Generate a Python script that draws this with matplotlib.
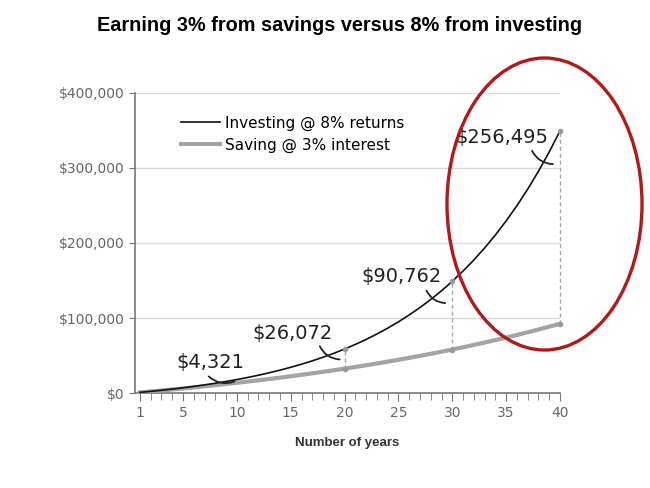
import matplotlib.pyplot as plt
from matplotlib.patches import Ellipse

# values ($100 a month, balance at end of each year)
years = list(range(1, 41))
investing = [1245, 2593, 4053, 5634, 7347, 9202, 11211, 13387, 15743, 18295,
             21058, 24051, 27292, 30802, 34604, 38721, 43180, 48009, 53239, 58903,
             65037, 71680, 78874, 86666, 95104, 104243, 114140, 124859, 136467, 149039,
             162654, 177399, 193368, 210663, 229393, 249678, 271646, 295438, 321204, 349109]
saving = [1217, 2471, 3763, 5094, 6466, 7879, 9335, 10836, 12382, 13975,
          15617, 17309, 19052, 20848, 22699, 24606, 26571, 28596, 30682, 32832,
          35047, 37330, 39682, 42106, 44603, 47176, 49828, 52560, 55375, 58276,
          61265, 64345, 67519, 70789, 74159, 77631, 81209, 84896, 88695, 92609]

mark_years = [20, 30, 40]
callout_labels = ['$4,321', '$26,072', '$90,762', '$256,495']

y_ticks = [0, 100000, 200000, 300000, 400000]
y_ticklabels = ['$0', '$100,000', '$200,000', '$300,000', '$400,000']
x_ticks = [1, 5, 10, 15, 20, 25, 30, 35, 40]

fig = plt.figure(figsize=(6.5, 4.88), dpi=100)
ax = fig.add_axes([135/650, 1-393.3/488, 425/650, 300.6/488])

ax.plot(years, saving, color='#a3a3a8', lw=3, label='Saving @ 3% interest', zorder=3)
ax.plot(years, investing, color='#111111', lw=1.2, label='Investing @ 8% returns', zorder=4)

for yr in mark_years:
    i = years.index(yr)
    ax.vlines(yr, saving[i], investing[i], colors='#aaaaaa', linestyles=(0, (3, 2)), lw=1,
              zorder=2, clip_on=False)
    ax.plot([yr, yr], [saving[i], investing[i]], 'o', color='#999999', ms=3, zorder=5, clip_on=False)

# handwritten style callouts
text_pos = [(7.5, 41000), (15.2, 80000), (25.3, 155000), (34.6, 341000)]
hook_start = [(7.2, 25000), (17.6, 66000), (27.5, 140000), (37.3, 326000)]
hook_end = [(10.0, 17000), (19.8, 45000), (29.6, 120000), (39.6, 305000)]
for lab, tp, hs, he in zip(callout_labels, text_pos, hook_start, hook_end):
    ax.text(tp[0], tp[1], lab, ha='center', va='center', fontsize=14, color='#222222', zorder=6)
    ax.annotate('', xy=he, xytext=hs,
                arrowprops=dict(arrowstyle='-', color='#222222', lw=1.3,
                                connectionstyle='arc3,rad=0.35'), zorder=6)

ax.set_xlim(0.54, 40)
ax.set_ylim(0, 400000)
ax.set_xticks(x_ticks)
ax.set_xticks(years, minor=True)
ax.set_yticks(y_ticks)
ax.set_yticklabels(y_ticklabels)
ax.yaxis.grid(True, color='#dcdcdc', lw=1)
ax.set_axisbelow(True)
for s in ['top', 'right']:
    ax.spines[s].set_visible(False)
for s in ['left', 'bottom']:
    ax.spines[s].set_color('#777777')
    ax.spines[s].set_linewidth(1.2)
ax.tick_params(axis='both', colors='#777777', labelcolor='#666666', labelsize=10)
ax.tick_params(axis='x', which='major', length=6, direction='out')
ax.tick_params(axis='x', which='minor', length=5, color='#777777')
ax.tick_params(axis='y', length=4)

handles, labels = ax.get_legend_handles_labels()
ax.legend(handles[::-1], labels[::-1], loc='upper left', bbox_to_anchor=(0.075, 0.97),
          frameon=False, fontsize=11, handlelength=2.6, handletextpad=0.3, labelspacing=0.45)

ax.set_xlabel('Number of years', fontsize=9.5, fontweight='bold', color='#333333', labelpad=12,
              family='Liberation Sans')
fig.text(0.523, 0.948, 'Earning 3% from savings versus 8% from investing', ha='center', va='center',
         fontsize=14.3, fontweight='bold', color='black', family='Liberation Sans')

ring = Ellipse((544.5/650, 1-204/488), 195/650, 292/488, transform=fig.transFigure,
               fill=False, edgecolor='#b01a1a', lw=2.4, zorder=10)
fig.add_artist(ring)

fig.savefig('out.png', dpi=100)
